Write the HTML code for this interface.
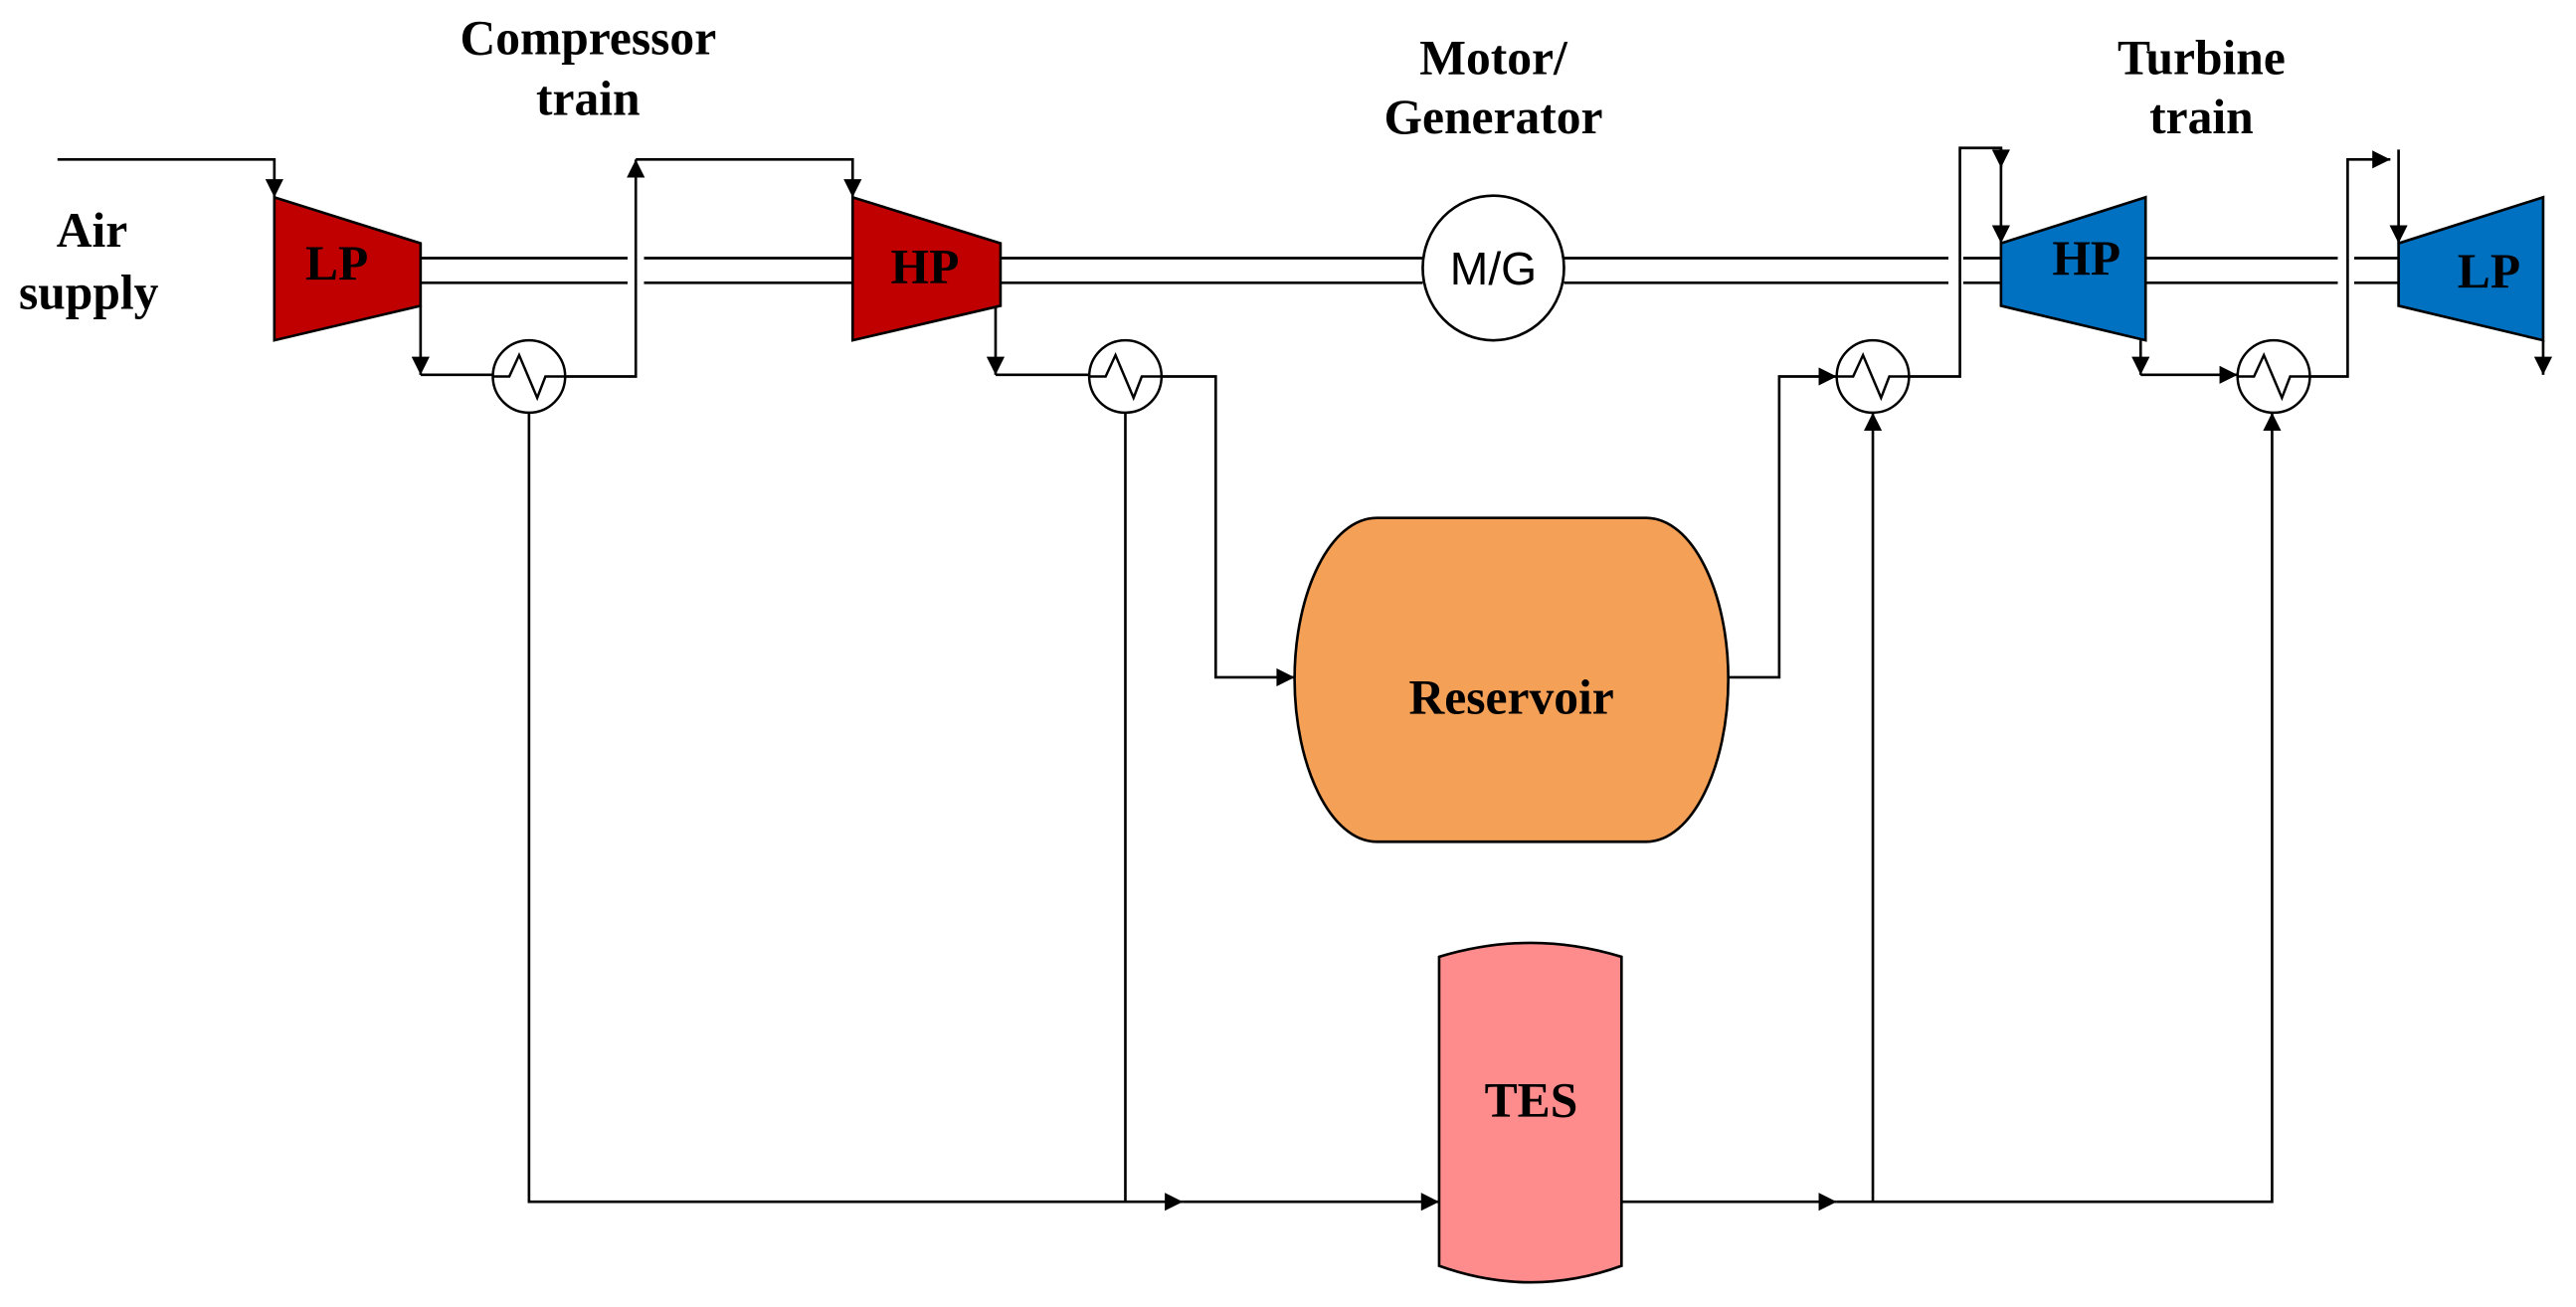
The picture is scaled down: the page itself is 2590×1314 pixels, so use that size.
<!DOCTYPE html>
<html><head><meta charset="utf-8"><style>html,body{margin:0;padding:0;background:#fff}svg{display:block}</style></head>
<body>
<svg width="2590" height="1314" viewBox="0 0 1568 795" preserveAspectRatio="none" xmlns="http://www.w3.org/2000/svg">
<defs>
<marker id="a" viewBox="0 0 10 10" refX="10" refY="5" markerWidth="12" markerHeight="11" markerUnits="userSpaceOnUse" orient="auto"><path d="M0,0L10,5L0,10z" fill="#000"/></marker>
</defs>
<g fill="none" stroke="#000" stroke-width="1.6">
<path d="M256,157H382M256,172H382M392,157H520M392,172H520"/>
<path d="M609,157H866M609,172H866"/>
<path d="M952,157H1186M952,172H1186M1195,157H1218M1195,172H1218"/>
<path d="M1306,157H1423M1306,172H1423M1433,157H1460M1433,172H1460"/>
<path d="M35,97H167V120" marker-end="url(#a)"/>
<path d="M256,186V228" marker-end="url(#a)"/>
<path d="M256,228H300"/>
<path d="M344,229H387V97" marker-end="url(#a)"/>
<path d="M387,97H519V120" marker-end="url(#a)"/>
<path d="M606,186V228" marker-end="url(#a)"/>
<path d="M606,228H663"/>
<path d="M707,229H740V412H788" marker-end="url(#a)"/>
<path d="M1052,412H1083V229H1118" marker-end="url(#a)"/>
<path d="M1162,229H1193V90H1218V148" marker-end="url(#a)"/>
<path d="M1218,90V102" marker-end="url(#a)"/>
<path d="M1303,207V228" marker-end="url(#a)"/>
<path d="M1303,228H1362" marker-end="url(#a)"/>
<path d="M1406,229H1429V97H1455" marker-end="url(#a)"/>
<path d="M1460,91V148" marker-end="url(#a)"/>
<path d="M1548,207V228" marker-end="url(#a)"/>
<path d="M322,251V731H720" marker-end="url(#a)"/>
<path d="M685,251V731"/>
<path d="M720,731H876" marker-end="url(#a)"/>
<path d="M987,731H1118" marker-end="url(#a)"/>
<path d="M1118,731H1383V251" marker-end="url(#a)"/>
<path d="M1140,731V251" marker-end="url(#a)"/>
</g>
<g stroke="#000" stroke-width="1.6">
<polygon points="167,120 256,148 256,186 167,207" fill="#C00000"/>
<polygon points="519,120 609,148 609,186 519,207" fill="#C00000"/>
<polygon points="1218,148 1306,120 1306,207 1218,186" fill="#0070C0"/>
<polygon points="1460,148 1548,120 1548,207 1460,186" fill="#0070C0"/>
<ellipse cx="909" cy="163" rx="43" ry="44" fill="#fff"/>
<path d="M838,315H1002C1030,315 1052,360 1052,413C1052,466 1030,512 1002,512H838C810,512 788,466 788,413C788,360 810,315 838,315Z" fill="#F5A057"/>
<path d="M876,582Q932,565 987,582V770Q932,790 876,770Z" fill="#FF8C8C"/>
</g>
<g fill="#fff" stroke="#000" stroke-width="1.5">
<ellipse cx="322" cy="229" rx="22" ry="22"/>
<ellipse cx="685" cy="229" rx="22" ry="22"/>
<ellipse cx="1140" cy="229" rx="22" ry="22"/>
<ellipse cx="1384" cy="229" rx="22" ry="22"/>
</g>
<g fill="none" stroke="#000" stroke-width="1.5">
<path d="M300,229H310L316,216L327,242L332,229H344"/>
<path d="M663,229H673L679,216L690,242L695,229H707"/>
<path d="M1118,229H1128L1134,216L1145,242L1150,229H1162"/>
<path d="M1362,229H1372L1378,216L1389,242L1394,229H1406"/>
</g>
<g font-family="Liberation Serif, serif" font-weight="bold" font-size="30" text-anchor="middle" fill="#000">
<text x="56" y="150">Air</text>
<text x="54" y="188">supply</text>
<text x="358" y="33">Compressor</text>
<text x="358" y="70">train</text>
<text x="909" y="45">Motor/</text>
<text x="909" y="81">Generator</text>
<text x="1340" y="45">Turbine</text>
<text x="1340" y="81">train</text>
<text x="205" y="170">LP</text>
<text x="563" y="172">HP</text>
<text x="1270" y="167">HP</text>
<text x="1515" y="175">LP</text>
<text x="920" y="434">Reservoir</text>
<text x="932" y="679">TES</text>
</g>
<text x="909" y="173" font-family="Liberation Sans, sans-serif" font-size="28" text-anchor="middle">M/G</text>
</svg>
</body></html>
